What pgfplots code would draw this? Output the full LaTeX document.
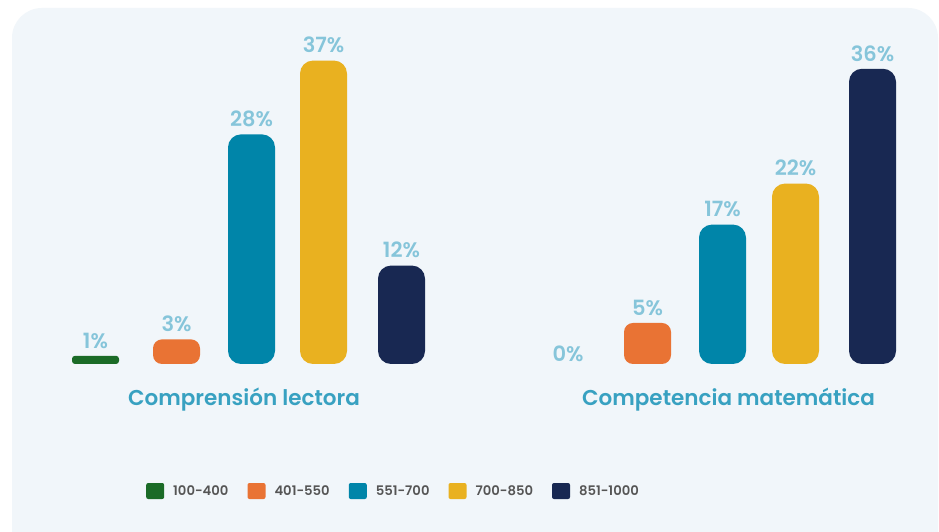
\documentclass[border=0pt]{standalone}
\usepackage{pgfplots}
\pgfplotsset{compat=1.18}
\usepackage{fontspec}
\setmainfont{Poppins}[BoldFont={Poppins SemiBold}]

\definecolor{panel}{HTML}{F1F6FA}
\definecolor{c1}{HTML}{1B6B27}
\definecolor{c2}{HTML}{E97334}
\definecolor{c3}{HTML}{0085A9}
\definecolor{c4}{HTML}{E9B120}
\definecolor{c5}{HTML}{182852}
\definecolor{vallab}{HTML}{86C5DA}
\definecolor{grouplab}{HTML}{38A1C1}
\definecolor{legtext}{HTML}{555555}

\pgfplotsset{
  pill/.style={ybar, bar width=47pt, bar shift=0pt, draw=none, fill=#1,
    legend image code/.code={\fill[#1, rounded corners=2pt] (0pt,-8pt) rectangle (18pt,8pt);}},
}

\begin{document}
\begin{tikzpicture}
\useasboundingbox (0,0) rectangle (939pt,532pt);
\fill[white] (0,0) rectangle (939pt,532pt);
\begin{scope}
  \clip (0,0) rectangle (939pt,532pt);
  \fill[panel, rounded corners=30pt] (12pt,-40pt) rectangle (938pt,524pt);
\end{scope}
\begin{axis}[
    at={(0pt,0pt)}, anchor=south west,
    scale only axis, width=939pt, height=532pt,
    xmin=0, xmax=939, ymin=-20.488, ymax=44.39,
    hide axis, clip=false,
    /pgf/number format/assume math mode=true,
    nodes near coords={\pgfmathprintnumber{\pgfplotspointmeta}\%},
    every node near coord/.append style={font=\fontsize{21}{23}\selectfont\bfseries,
      text=vallab, anchor=south, yshift=4pt},
    legend columns=-1,
    legend style={at={(axis cs:146,-15.49)}, anchor=west, draw=none, fill=none,
      inner sep=0pt, font=\fontsize{13.2}{16}\selectfont\bfseries, text=legtext,
      nodes={inner xsep=0pt},
      /tikz/every odd column/.append style={column sep=9pt},
      /tikz/every even column/.append style={column sep=19pt}},
  ]
  % x = centre of each bar (pixels), y = percent
  \addplot[pill=c1, rounded corners=3pt] coordinates {(95.5,1)};
  \addlegendentry{100-400}
  \addplot[pill=c2, rounded corners=9pt] coordinates {(176.5,3) (647.5,5)};
  \addlegendentry{401-550}
  \addplot[pill=c3, rounded corners=13pt] coordinates {(251.5,28) (722.5,17)};
  \addlegendentry{551-700}
  \addplot[pill=c4, rounded corners=13pt] coordinates {(323.5,37) (795.5,22)};
  \addlegendentry{700-850}
  \addplot[pill=c5, rounded corners=13pt] coordinates {(401.5,12) (872.5,36)};
  \addlegendentry{851-1000}
  % 100-400 in Competencia matemática: 0 %, label only
  \addplot[draw=none, mark=none, forget plot, every node near coord/.append style={yshift=-5pt}]
    coordinates {(568,0)};

  \node[font=\fontsize{21.5}{26}\selectfont\bfseries, text=grouplab]
    at (axis cs:244,-4.39) {Comprensión lectora};
  \node[font=\fontsize{21.5}{26}\selectfont\bfseries, text=grouplab]
    at (axis cs:728.5,-4.39) {Competencia matemática};
\end{axis}
\end{tikzpicture}
\end{document}
